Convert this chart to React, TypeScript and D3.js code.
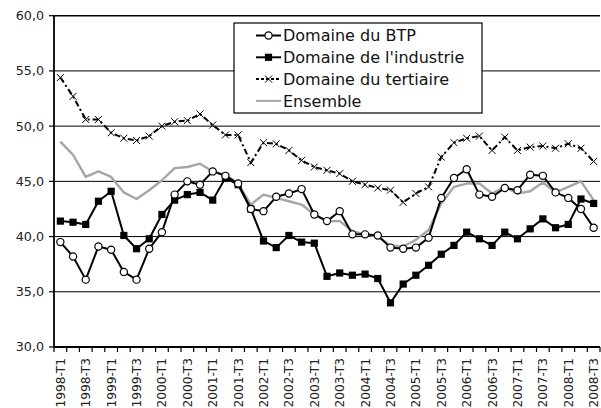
import * as d3 from 'd3'

const quarters = [
  '1998-T1', '1998-T2', '1998-T3', '1998-T4',
  '1999-T1', '1999-T2', '1999-T3', '1999-T4',
  '2000-T1', '2000-T2', '2000-T3', '2000-T4',
  '2001-T1', '2001-T2', '2001-T3', '2001-T4',
  '2002-T1', '2002-T2', '2002-T3', '2002-T4',
  '2003-T1', '2003-T2', '2003-T3', '2003-T4',
  '2004-T1', '2004-T2', '2004-T3', '2004-T4',
  '2005-T1', '2005-T2', '2005-T3', '2005-T4',
  '2006-T1', '2006-T2', '2006-T3', '2006-T4',
  '2007-T1', '2007-T2', '2007-T3', '2007-T4',
  '2008-T1', '2008-T2', '2008-T3'
]

const btp = [
  39.5, 38.2, 36.1, 39.1, 38.8, 36.8, 36.1, 38.9, 40.4, 43.8, 45.0,
  44.7, 45.9, 45.5, 44.8, 42.5, 42.3, 43.6, 43.9, 44.3, 42.0, 41.4,
  42.3, 40.2, 40.2, 40.1, 39.0, 38.9, 39.0, 39.9, 43.5, 45.3, 46.1,
  43.8, 43.6, 44.4, 44.2, 45.6, 45.5, 44.0, 43.5, 42.5, 40.8
]

const industrie = [
  41.4, 41.3, 41.1, 43.2, 44.1, 40.1, 38.9, 39.8, 42.0, 43.3, 43.8,
  44.0, 43.3, 45.3, 44.7, 42.5, 39.6, 39.0, 40.1, 39.5, 39.4, 36.4,
  36.7, 36.5, 36.6, 36.2, 34.0, 35.7, 36.5, 37.4, 38.4, 39.2, 40.4,
  39.8, 39.2, 40.4, 39.8, 40.7, 41.6, 40.8, 41.1, 43.4, 43.0
]

const tertiaire = [
  54.4, 52.7, 50.6, 50.6, 49.4, 48.9, 48.7, 49.1, 50.0, 50.4, 50.5,
  51.1, 50.1, 49.2, 49.2, 46.7, 48.5, 48.4, 47.8, 46.9, 46.3, 46.0,
  45.7, 45.0, 44.7, 44.4, 44.2, 43.1, 43.9, 44.5, 47.2, 48.5, 48.9,
  49.1, 47.8, 49.0, 47.8, 48.1, 48.2, 48.0, 48.4, 48.0, 46.8
]

const ensemble = [
  48.6, 47.4, 45.4, 45.9, 45.4, 44.0, 43.4, 44.2, 45.1, 46.2, 46.3,
  46.6, 45.9, 45.6, 44.8, 42.9, 43.8, 43.5, 43.2, 42.9, 42.0, 41.4,
  41.4, 40.5, 40.2, 40.0, 39.2, 39.1, 39.7, 40.6, 43.0, 44.5, 44.8,
  44.8, 43.9, 44.5, 43.9, 44.1, 44.9, 44.0, 44.5, 45.0, 43.3
]

const yTicks = [30, 35, 40, 45, 50, 55, 60]

const legendItems = [
  { label: 'Domaine du BTP', kind: 'btp' },
  { label: "Domaine de l'industrie", kind: 'industrie' },
  { label: 'Domaine du tertiaire', kind: 'tertiaire' },
  { label: 'Ensemble', kind: 'ensemble' }
]

const FONT = 'DejaVu Sans, Verdana, sans-serif'
const GRAY = '#a6a6a6'
const DASH = '6 3 2 3'

const Marker = ({ kind, x, y }: { kind: string, x: number, y: number }) => {
  if (kind === 'btp') {
    return <circle cx={x} cy={y} r={3.6} fill='#fff' stroke='#000' strokeWidth={1.2} />
  }
  if (kind === 'industrie') {
    return <rect x={x - 3.6} y={y - 3.6} width={7.2} height={7.2} fill='#000' />
  }
  if (kind === 'tertiaire') {
    return (
      <path d={`M${x - 3.5},${y - 3.5}L${x + 3.5},${y + 3.5}M${x - 3.5},${y + 3.5}L${x + 3.5},${y - 3.5}`}
        stroke='#000' strokeWidth={1} fill='none' />
    )
  }
  return null
}

const App = () => {
  // MARGIN CONVENTION
  const width = 601, height = 408
  const left = 54, right = 600, top = 15.7, bottom = 347

  const x = d3.scaleBand<string>()
    .domain(quarters)
    .range([left, right])
    .paddingInner(0)
    .paddingOuter(0)
  const bw = x.bandwidth()
  const cx = (i: number) => (x(quarters[i]) as number) + bw / 2

  const y = d3.scaleLinear()
    .domain([30, 60])
    .range([bottom, top])

  const line = d3.line<number>()
    .x((d, i) => cx(i))
    .y(d => y(d))

  const fmt = (v: number) => d3.format('.1f')(v).replace('.', ',')

  // legend box
  const lx = 234, ly = 23, lw = 248, lh = 90

  return (
    <svg width={width} height={height} style={{ position: 'absolute', left: 0, top: 0, background: '#fff' }}
      fontFamily={FONT}>
      <rect width={width} height={height} fill='#fff' />

      {/* GRIDLINES */}
      {yTicks.filter(t => t > 30).map(t => (
        <line key={t} x1={left} x2={right} y1={y(t)} y2={y(t)} stroke='#000' strokeWidth={t === 60 ? 1.4 : 1} />
      ))}

      {/* Y AXIS */}
      <line x1={left} x2={left} y1={top} y2={bottom} stroke='#000' strokeWidth={1.8} />
      {yTicks.map(t => (
        <g key={t}>
          <line x1={left - 5} x2={left} y1={y(t)} y2={y(t)} stroke='#000' strokeWidth={1.2} />
          <text x={left - 10} y={y(t)} dy='0.35em' textAnchor='end' fontSize={12.7} fill='#222'>{fmt(t)}</text>
        </g>
      ))}

      {/* X AXIS */}
      <line x1={left} x2={right} y1={bottom} y2={bottom} stroke='#000' strokeWidth={1.8} />
      {quarters.map((q, i) => (
        <line key={q} x1={x(q) as number} x2={x(q) as number} y1={bottom} y2={bottom + 5} stroke='#000' strokeWidth={1.2} />
      ))}
      <line x1={right} x2={right} y1={bottom} y2={bottom + 5} stroke='#000' strokeWidth={1.2} />
      {quarters.map((q, i) => i % 2 === 0 ? (
        <text key={q} transform={`translate(${cx(i) + 4.5},${bottom + 11}) rotate(-90)`}
          textAnchor='end' fontSize={12.2} fill='#222'>{q}</text>
      ) : null)}

      {/* SERIES */}
      <path d={line(ensemble) as string} fill='none' stroke={GRAY} strokeWidth={2.4} strokeLinejoin='round' />
      <path d={line(btp) as string} fill='none' stroke='#000' strokeWidth={2} strokeLinejoin='round' />
      <path d={line(industrie) as string} fill='none' stroke='#000' strokeWidth={2} strokeLinejoin='round' />
      <path d={line(tertiaire) as string} fill='none' stroke='#000' strokeWidth={2} strokeDasharray={DASH} />

      {tertiaire.map((d, i) => <Marker key={'t' + i} kind='tertiaire' x={cx(i)} y={y(d)} />)}
      {industrie.map((d, i) => <Marker key={'i' + i} kind='industrie' x={cx(i)} y={y(d)} />)}
      {btp.map((d, i) => <Marker key={'b' + i} kind='btp' x={cx(i)} y={y(d)} />)}

      {/* LEGEND */}
      <rect x={lx} y={ly} width={lw} height={lh} fill='#fff' stroke='#000' strokeWidth={1.2} />
      {legendItems.map((it, i) => {
        const yy = ly + 12.5 + i * 21.8
        return (
          <g key={it.kind}>
            <line x1={lx + 22} x2={lx + 47} y1={yy} y2={yy}
              stroke={it.kind === 'ensemble' ? GRAY : '#000'} strokeWidth={2}
              strokeDasharray={it.kind === 'tertiaire' ? '3 2' : undefined} />
            <Marker kind={it.kind} x={lx + 34.5} y={yy} />
            <text x={lx + 49} y={yy} dy='0.36em' fontSize={16} fill='#111'>{it.label}</text>
          </g>
        )
      })}
    </svg>
  )
}

export default App
